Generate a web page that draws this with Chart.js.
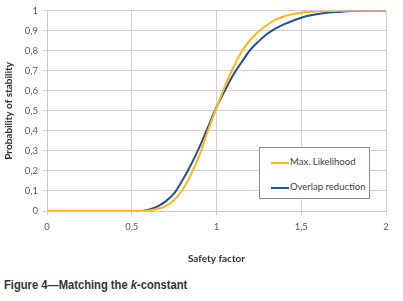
<!DOCTYPE html>
<html>
<head>
<meta charset="utf-8">
<script src="https://cdn.jsdelivr.net/npm/chart.js@4.4.0/dist/chart.umd.min.js"></script>
<style>
  body { margin: 0; background: #fff; }
  #wrap { position: relative; width: 403px; height: 301px; }
  #legend {
    position: absolute; left: 259px; top: 147px; width: 111px; height: 52px;
    border: 1px solid #8c8c8c; background: #fff; box-sizing: border-box;
    font-family: Lato, sans-serif; font-size: 9.5px; color: #404040;
  }
  .item { position: absolute; left: 11px; height: 12px; line-height: 12px; white-space: nowrap; }
  .item span { display: inline-block; width: 18px; height: 2px; vertical-align: middle; margin-right: 1px; }
  #caption {
    position: absolute; left: 4px; top: 277px;
    font-family: "Liberation Sans", Arial, sans-serif;
    font-weight: bold; font-size: 13px; color: #333;
    transform: scaleX(0.86); transform-origin: left center; white-space: nowrap;
  }
</style>
</head>
<body>
<div id="wrap">
  <canvas id="myChart" width="403" height="265"></canvas>
  <div id="legend">
    <div class="item" style="top:8px"><span style="background:#f7b916"></span>Max. Likelihood</div>
    <div class="item" style="top:33px"><span style="background:#27508c"></span>Overlap reduction</div>
  </div>
  <div id="caption">Figure 4—Matching the <i>k</i>-constant</div>
</div>
<script>
var safety = [0, 0.05, 0.1, 0.15, 0.2, 0.25, 0.3, 0.35, 0.4, 0.45, 0.5, 0.55,
              0.6, 0.65, 0.7, 0.75, 0.8, 0.85, 0.9, 0.95, 1.0, 1.05, 1.1, 1.15,
              1.2, 1.25, 1.3, 1.35, 1.4, 1.45, 1.5, 1.55, 1.6, 1.65, 1.7, 1.75,
              1.8, 1.85, 1.9, 1.95, 2.0];
var maxLikelihood = [0, 0, 0, 0, 0, 0, 0, 0, 0, 0, 0, 0,
                     0.003, 0.01, 0.024, 0.055, 0.106, 0.183, 0.28, 0.402, 0.516, 0.624, 0.719, 0.798,
                     0.855, 0.897, 0.93, 0.955, 0.972, 0.983, 0.99, 0.994, 0.997, 0.998, 0.999, 1,
                     1, 1, 1, 1, 1];
var overlapReduction = [0, 0, 0, 0, 0, 0, 0, 0, 0, 0, 0, 0,
                        0.007, 0.022, 0.048, 0.088, 0.155, 0.232, 0.32, 0.42, 0.518, 0.602, 0.681, 0.745,
                        0.805, 0.848, 0.885, 0.912, 0.933, 0.95, 0.965, 0.976, 0.984, 0.99, 0.993, 0.996,
                        0.998, 0.999, 1, 1, 1];

function toPoints(ys) {
  return safety.map(function (x, i) { return {x: x, y: ys[i]}; });
}
function comma(v) { return String(v).replace('.', ','); }

var ctx = document.getElementById('myChart').getContext('2d');
var myChart = new Chart(ctx, {
  type: 'line',
  data: {
    datasets: [{
        label: 'Max. Likelihood',
        data: toPoints(maxLikelihood),
        borderColor: '#f7b916',
        borderWidth: 2,
        pointRadius: 0,
        cubicInterpolationMode: 'monotone'
      }, {
        label: 'Overlap reduction',
        data: toPoints(overlapReduction),
        borderColor: '#27508c',
        borderWidth: 2,
        pointRadius: 0,
        cubicInterpolationMode: 'monotone'
      }
    ]
  },
  options: {
    responsive: false,
    animation: false,
    layout: { padding: { top: 6, right: 17, left: 0, bottom: 0 } },
    plugins: {
      legend: { display: false },
      tooltip: { enabled: false }
    },
    scales: {
      x: {
        type: 'linear',
        min: 0,
        max: 2,
        afterFit: function (s) { s.height = 54; },
        grid: { color: '#d0d0d0', tickLength: 4, drawTicks: true },
        border: { color: '#c8c8c8' },
        ticks: {
          stepSize: 0.5,
          padding: 6,
          color: '#595959',
          font: { family: 'Lato', size: 9.5 },
          maxRotation: 0,
          callback: function (v) { return comma(v); }
        },
        title: {
          display: true,
          text: 'Safety factor',
          color: '#333',
          font: { family: 'Lato', size: 10, weight: 'bold' },
          padding: { top: 8, bottom: 0 }
        }
      },
      y: {
        min: 0,
        max: 1,
        afterFit: function (s) { s.width = 47; },
        grid: { color: '#d0d0d0', tickLength: 4 },
        border: { color: '#c8c8c8' },
        ticks: {
          stepSize: 0.1,
          padding: 5,
          color: '#595959',
          font: { family: 'Lato', size: 9.5 },
          callback: function (v) { return comma(Math.round(v * 10) / 10); }
        },
        title: {
          display: true,
          text: 'Probability of stability',
          color: '#333',
          font: { family: 'Lato', size: 10, weight: 'bold' },
          padding: { top: 3, bottom: 4 }
        }
      }
    }
  }
});
</script>
</body>
</html>
